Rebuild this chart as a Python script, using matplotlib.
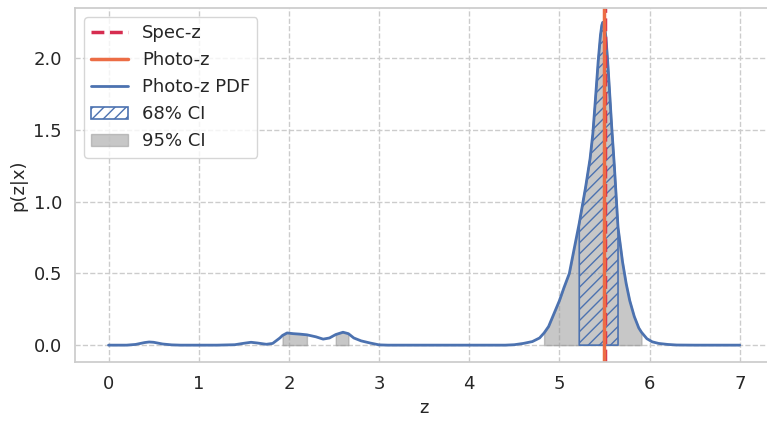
import matplotlib
matplotlib.use("Agg")
import matplotlib.pyplot as plt
import numpy as np
import seaborn as sns

sns.set_theme(style="whitegrid")
plt.rcParams["font.family"] = ["DejaVu Sans"]
plt.rcParams["grid.linestyle"] = "--"
plt.rcParams["grid.color"] = "#cccccc"
plt.rcParams["axes.edgecolor"] = "#cccccc"

# photo-z PDF
z = [0.0, 0.2, 0.3, 0.4, 0.45, 0.5, 0.6, 0.7, 0.8, 1.0, 1.2, 1.4, 1.5, 1.58, 1.65,
     1.75, 1.82, 1.9, 1.93, 1.98, 2.05, 2.12, 2.2, 2.3, 2.38, 2.45, 2.52, 2.6, 2.66,
     2.72, 2.8, 2.9, 3.0, 3.1, 3.5, 4.0, 4.4, 4.5, 4.6, 4.7, 4.78, 4.83, 4.88, 4.94,
     5.0, 5.05, 5.11, 5.16, 5.22, 5.29, 5.34, 5.37, 5.40, 5.43, 5.455, 5.47, 5.48,
     5.49, 5.50, 5.515, 5.535, 5.555, 5.58, 5.61, 5.65, 5.70, 5.74, 5.78, 5.83, 5.88,
     5.91, 5.97, 6.03, 6.1, 6.2, 6.3, 6.5, 7.0]
pdf = [0.0, 0.0, 0.005, 0.018, 0.022, 0.02, 0.008, 0.002, 0.0, 0.0, 0.0, 0.003, 0.013,
       0.02, 0.015, 0.006, 0.012, 0.05, 0.068, 0.085, 0.08, 0.077, 0.072, 0.058, 0.042,
       0.05, 0.074, 0.09, 0.08, 0.05, 0.03, 0.015, 0.002, 0.0, 0.0, 0.0, 0.0, 0.003,
       0.012, 0.025, 0.05, 0.085, 0.13, 0.22, 0.31, 0.40, 0.50, 0.66, 0.85, 1.10, 1.30,
       1.47, 1.72, 1.98, 2.16, 2.23, 2.25, 2.245, 2.22, 2.15, 1.98, 1.78, 1.52, 1.24,
       0.82, 0.58, 0.43, 0.31, 0.20, 0.12, 0.09, 0.045, 0.023, 0.012, 0.005, 0.001,
       0.0, 0.0]

spec_z = 5.50
photo_z = 5.49
ci68 = [(5.22, 5.65)]
ci95 = [(1.93, 2.20), (2.52, 2.66), (4.83, 5.91)]

z = np.array(z)
pdf = np.array(pdf)

blue = "#4c72b0"

fig = plt.figure(figsize=(7.67, 4.22), dpi=100)
ax = fig.add_axes([0.098, 0.142, 0.91, 0.839])

for i, (lo, hi) in enumerate(ci95):
    m = (z >= lo) & (z <= hi)
    ax.fill_between(z[m], 0, pdf[m], color="#999999", alpha=0.55, lw=1,
                    label="95% CI" if i == 0 else None)
for lo, hi in ci68:
    m = (z >= lo) & (z <= hi)
    ax.fill_between(z[m], 0, pdf[m], facecolor="none", edgecolor=blue, hatch="///",
                    lw=1.2, label="68% CI")

ax.plot(z, pdf, color=blue, lw=2, label="Photo-z PDF")
ax.axvline(spec_z, color="#d62d50", ls="--", lw=2.5, label="Spec-z")
ax.axvline(photo_z, color="#ec6d45", lw=2.5, label="Photo-z")

ax.set_xlim(-0.37, 7.37)
ax.set_ylim(-0.118, 2.35)
ax.set_xticks(range(0, 8))
ax.set_yticks([0.0, 0.5, 1.0, 1.5, 2.0])
ax.tick_params(labelsize=13)
ax.set_xlabel("z", fontsize=13)
ax.set_ylabel("p(z|x)", fontsize=13)

handles, labels = ax.get_legend_handles_labels()
order = ["Spec-z", "Photo-z", "Photo-z PDF", "68% CI", "95% CI"]
hmap = dict(zip(labels, handles))
ax.legend([hmap[k] for k in order], order, loc="upper left", fontsize=13,
          frameon=True)

fig.savefig("out.png", dpi=100)
